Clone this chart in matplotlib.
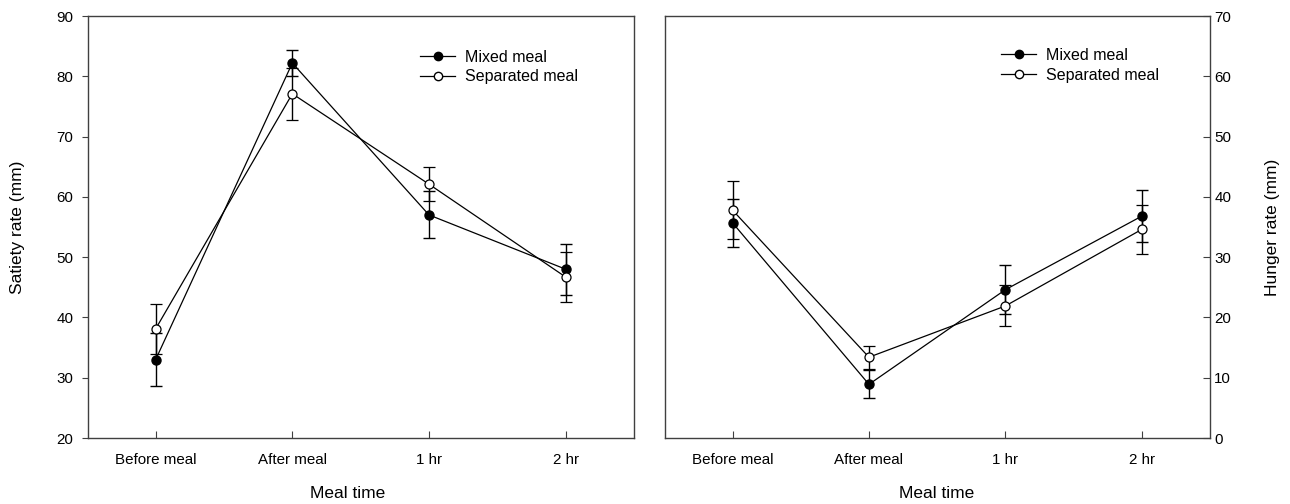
import matplotlib
matplotlib.use("Agg")
import matplotlib.pyplot as plt
from matplotlib.lines import Line2D

plt.rcParams['font.family'] = ['Liberation Sans', 'DejaVu Sans']

categories = ["Before meal", "After meal", "1 hr", "2 hr"]

satiety_mixed = [33.0, 82.2, 57.0, 48.0]
satiety_mixed_se = [4.4, 2.2, 3.9, 4.2]
satiety_sep = [38.1, 77.1, 62.1, 46.7]
satiety_sep_se = [4.2, 4.3, 2.8, 4.1]

hunger_mixed = [35.7, 8.9, 24.6, 36.8]
hunger_mixed_se = [4.0, 2.3, 4.1, 4.3]
hunger_sep = [37.8, 13.4, 21.9, 34.6]
hunger_sep_se = [4.8, 1.9, 3.4, 4.1]

series_names = ["Mixed meal", "Separated meal"]

W, H = 1290, 504
fig = plt.figure(figsize=(W / 100, H / 100), dpi=100)

def ax_rect(x0, x1, y0, y1):
    return [x0 / W, 1 - y1 / H, (x1 - x0) / W, (y1 - y0) / H]

ax1 = fig.add_axes(ax_rect(88, 634, 16, 438))
ax2 = fig.add_axes(ax_rect(665, 1210, 16, 438))

spine_col = '#404040'
x = list(range(len(categories)))

def draw(ax, mixed, mixed_se, sep, sep_se):
    ax.errorbar(x, mixed, yerr=mixed_se, color='black', lw=0.9, marker='o',
                ms=6.5, mfc='black', mec='black', capsize=4.2, elinewidth=1.0,
                capthick=1.0, zorder=3, label=series_names[0])
    ax.errorbar(x, sep, yerr=sep_se, color='black', lw=0.9, marker='o',
                ms=6.5, mfc='white', mec='black', mew=0.9, capsize=4.2,
                elinewidth=1.0, capthick=1.0, zorder=4, label=series_names[1])
    ax.set_xlim(-0.495, 3.5)
    ax.set_xticks(x)
    ax.set_xticklabels(categories, fontsize=10.9)
    for s in ax.spines.values():
        s.set_color(spine_col)
        s.set_linewidth(1.0)
    ax.tick_params(axis='x', direction='in', length=5, color=spine_col, pad=11)

draw(ax1, satiety_mixed, satiety_mixed_se, satiety_sep, satiety_sep_se)
ax1.set_ylim(20, 90)
ax1.set_yticks(range(20, 91, 10))
ax1.tick_params(axis='y', direction='out', length=4.5, color=spine_col, labelsize=10.9, pad=6)

draw(ax2, hunger_mixed, hunger_mixed_se, hunger_sep, hunger_sep_se)
ax2.set_ylim(0, 70)
ax2.set_yticks(range(0, 71, 10))
ax2.yaxis.tick_right()
ax2.tick_params(axis='y', direction='in', length=5, color=spine_col, labelsize=10.9, pad=3)

handles = [
    Line2D([], [], color='black', lw=0.9, marker='o', ms=6, mfc='black', mec='black'),
    Line2D([], [], color='black', lw=0.9, marker='o', ms=6, mfc='white', mec='black'),
]
for ax, bx in ((ax1, (420, 49.5)), (ax2, (1001, 48))):
    pos = ax.get_position()
    x0 = (bx[0] - pos.x0 * W) / (pos.width * W)
    y0 = 1 - (bx[1] - 16) / 422
    ax.legend(handles, series_names, loc='upper left', bbox_to_anchor=(x0, y0),
              frameon=False, fontsize=11.5, handlelength=2.2, handletextpad=0.63,
              labelspacing=0.3, borderaxespad=0, borderpad=0)

fig.text(18 / W, 1 - 227 / H, "Satiety rate (mm)", rotation=90, ha='center', va='center', fontsize=12.5)
fig.text(1272 / W, 1 - 227 / H, "Hunger rate (mm)", rotation=90, ha='center', va='center', fontsize=12.5)
fig.text(348 / W, 1 - 493 / H, "Meal time", ha='center', va='center', fontsize=12.5)
fig.text(937 / W, 1 - 493 / H, "Meal time", ha='center', va='center', fontsize=12.5)

fig.savefig("out.png", dpi=100)
